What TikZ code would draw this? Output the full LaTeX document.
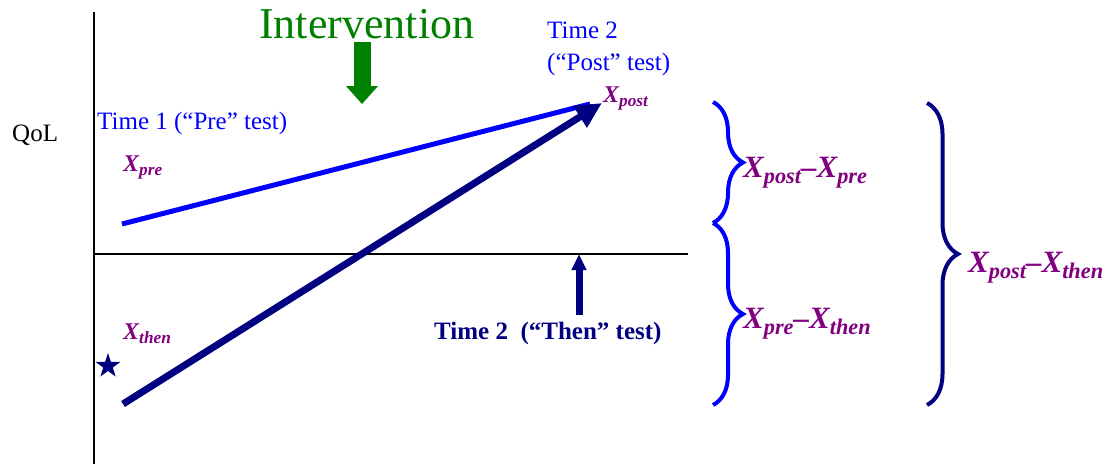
\documentclass[tikz,border=0pt]{standalone}
\usepackage{fontspec}
\usepackage{graphicx}
\setmainfont{Liberation Serif}
\usetikzlibrary{arrows.meta,decorations.pathreplacing}
\definecolor{navy}{RGB}{0,0,128}
\definecolor{plum}{RGB}{128,0,128}
\definecolor{leaf}{RGB}{0,128,0}
\definecolor{bright}{RGB}{0,0,255}
\newcommand{\lowsub}[1]{\raisebox{-0.2em}{\scalebox{0.72}{#1}}}
\newcommand{\xvar}[1]{X\lowsub{#1}}

\begin{document}
\begin{tikzpicture}[x=1pt,y=-1pt,
    txt/.style={inner sep=0pt,anchor=base west},
    tag/.style={txt,font=\fontsize{25}{32}\selectfont\color{bright}},
    var/.style={txt,font=\fontsize{24}{28}\selectfont\bfseries\itshape\color{plum}},
    diff/.style={txt,font=\fontsize{31}{36}\selectfont\bfseries\itshape\color{plum}},
    brc/.style={line width=4pt,decorate,decoration={brace,amplitude=#1}}]
  \useasboundingbox (0,0) rectangle (1108,464);
  % axes
  \coordinate (top) at (94,12);
  \coordinate (bottom) at (94,464);
  \coordinate (right) at (688,254);
  \draw[line width=2pt] (top) -- (bottom);
  \draw[line width=2pt] (94,254) -- (right);
  % labels
  \node[txt,font=\fontsize{25}{30}\selectfont] (qol) at (12,141) {QoL};
  \node[txt,font=\fontsize{44}{50}\selectfont\color{leaf}] (interv) at (259,38) {Intervention};
  \node[tag] (time1) at (97,129) {Time 1 (“Pre” test)};
  \node[tag,align=left] (time2) at (547,70) {Time 2\\(“Post” test)};
  \node[txt,font=\fontsize{25}{28}\selectfont\bfseries\color{navy}] (time2then) at (434,339) {Time 2\ \ (“Then” test)};
  \node[var] (xpre) at (123,171) {\xvar{pre}};
  \node[var] (xpost) at (603,102) {\xvar{post}};
  \node[var] (xthen) at (123,339) {\xvar{then}};
  \coordinate (mark) at (108,366);
  \fill[navy] (mark) +(-90:13) \foreach \i in {0,...,4} {-- +(-90+72*\i:13) -- +(-54+72*\i:5)} -- cycle;
  % change lines
  \coordinate (pre) at (122,224);
  \coordinate (post) at (602,103);
  \coordinate (postend) at (590,104);
  \coordinate (then) at (123,404);
  \draw[bright,line width=5pt] (pre) -- (postend);
  \draw[navy,line width=7pt,-{Triangle[length=26pt,width=24pt]}] (then) -- (post);
  % intervention and then-test arrows
  \coordinate (intop) at (362,42);
  \coordinate (inbot) at (362,104);
  \draw[leaf,line width=17pt,-{Triangle[length=18pt,width=31pt]}] (intop) -- (inbot);
  \coordinate (thenfoot) at (579,315);
  \coordinate (thentip) at (579,254);
  \draw[navy,line width=7pt,-{Triangle[length=16pt,width=14pt]}] (thenfoot) -- (thentip);
  % braces
  \coordinate (b1) at (713,102);
  \coordinate (b2) at (713,223);
  \coordinate (b3) at (713,405);
  \coordinate (c1) at (927,103);
  \coordinate (c2) at (927,405);
  \draw[bright,brc=30pt] (b1) -- (b2);
  \draw[bright,brc=30pt] (b2) -- (b3);
  \draw[navy,brc=31pt] (c1) -- (c2);
  \node[diff] (dpostpre) at (743,177) {\xvar{post}–\xvar{pre}};
  \node[diff] (dprethen) at (743,328) {\xvar{pre}–\xvar{then}};
  \node[diff] (dpostthen) at (968,272) {\xvar{post}–\xvar{then}};
\end{tikzpicture}
\end{document}
